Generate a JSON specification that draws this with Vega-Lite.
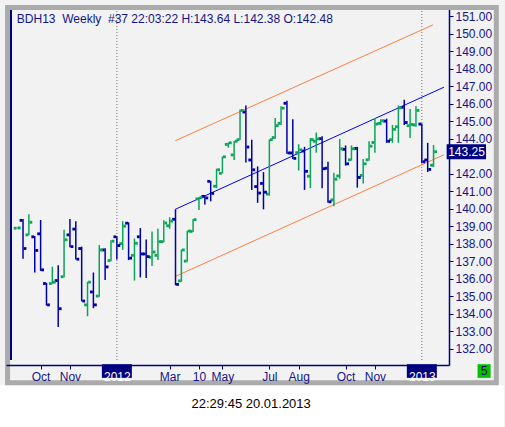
{
  "$schema": "https://vega.github.io/schema/vega-lite/v6.json",
  "autosize": {"type": "none"},
  "padding": {"left": 6, "top": 5, "right": 56, "bottom": 62},
  "width": 443,
  "height": 360,
  "background": "#f2f2f2",
  "datasets": {
    "weeks": [
      {"i": 1, "o": 138.88, "h": 138.92, "l": 138.86, "c": 138.9},
      {"i": 2, "o": 139.33, "h": 139.41, "l": 137.14, "c": 137.72},
      {"i": 3, "o": 138.5, "h": 139.68, "l": 138.48, "c": 139.22},
      {"i": 4, "o": 138.39, "h": 138.44, "l": 136.35, "c": 137.61},
      {"i": 5, "o": 138.56, "h": 139.35, "l": 136.44, "c": 136.5},
      {"i": 6, "o": 135.72, "h": 135.76, "l": 134.46, "c": 134.5},
      {"i": 7, "o": 135.72, "h": 136.68, "l": 135.7, "c": 135.8},
      {"i": 8, "o": 135.89, "h": 136.76, "l": 133.24, "c": 134.28},
      {"i": 9, "o": 136.11, "h": 138.79, "l": 136.07, "c": 138.22},
      {"i": 10, "o": 138.5, "h": 139.41, "l": 137.79, "c": 137.83},
      {"i": 11, "o": 138.83, "h": 139.28, "l": 137.09, "c": 137.11},
      {"i": 12, "o": 137.72, "h": 137.83, "l": 134.7, "c": 134.72},
      {"i": 13, "o": 134.5, "h": 135.82, "l": 133.85, "c": 135.8},
      {"i": 14, "o": 135.24, "h": 136.35, "l": 134.31, "c": 134.5},
      {"i": 15, "o": 135.0, "h": 137.92, "l": 134.96, "c": 137.64},
      {"i": 16, "o": 137.64, "h": 137.74, "l": 135.92, "c": 136.67},
      {"i": 17, "o": 137.03, "h": 138.2, "l": 137.0, "c": 138.14},
      {"i": 18, "o": 138.39, "h": 138.42, "l": 137.09, "c": 137.89},
      {"i": 19, "o": 138.0, "h": 139.28, "l": 137.64, "c": 139.0},
      {"i": 20, "o": 139.17, "h": 139.22, "l": 137.06, "c": 137.17},
      {"i": 21, "o": 137.33, "h": 138.29, "l": 135.89, "c": 138.02},
      {"i": 22, "o": 138.39, "h": 138.89, "l": 136.07, "c": 137.41},
      {"i": 23, "o": 137.41, "h": 138.24, "l": 136.03, "c": 137.26},
      {"i": 24, "o": 137.22, "h": 138.7, "l": 136.72, "c": 137.52},
      {"i": 25, "o": 137.33, "h": 138.85, "l": 137.07, "c": 138.11},
      {"i": 26, "o": 138.11, "h": 139.33, "l": 138.08, "c": 139.18},
      {"i": 27, "o": 139.02, "h": 139.5, "l": 138.85, "c": 139.29},
      {"i": 28, "o": 139.39, "h": 139.96, "l": 135.62, "c": 135.67},
      {"i": 29, "o": 135.87, "h": 137.66, "l": 135.82, "c": 137.64},
      {"i": 30, "o": 137.0, "h": 138.74, "l": 136.97, "c": 138.72},
      {"i": 31, "o": 138.7, "h": 139.41, "l": 138.67, "c": 139.37},
      {"i": 32, "o": 140.56, "h": 140.67, "l": 139.92, "c": 140.63},
      {"i": 33, "o": 140.7, "h": 140.78, "l": 140.24, "c": 140.61},
      {"i": 34, "o": 141.56, "h": 141.59, "l": 140.42, "c": 140.87},
      {"i": 35, "o": 141.28, "h": 142.28, "l": 141.17, "c": 142.22},
      {"i": 36, "o": 142.02, "h": 142.98, "l": 142.0, "c": 142.96},
      {"i": 37, "o": 143.67, "h": 143.78, "l": 143.48, "c": 143.76},
      {"i": 38, "o": 143.07, "h": 143.87, "l": 142.78, "c": 143.85},
      {"i": 39, "o": 143.94, "h": 145.67, "l": 143.92, "c": 145.61},
      {"i": 40, "o": 145.52, "h": 145.89, "l": 142.64, "c": 143.52},
      {"i": 41, "o": 142.78, "h": 143.94, "l": 141.07, "c": 142.22},
      {"i": 42, "o": 141.26, "h": 142.41, "l": 140.33, "c": 140.89},
      {"i": 43, "o": 141.44, "h": 142.09, "l": 139.96, "c": 140.94},
      {"i": 44, "o": 140.83, "h": 143.96, "l": 140.74, "c": 143.94},
      {"i": 45, "o": 144.06, "h": 145.18, "l": 144.0, "c": 144.74},
      {"i": 46, "o": 144.87, "h": 145.85, "l": 144.78, "c": 145.74},
      {"i": 47, "o": 146.02, "h": 146.17, "l": 143.14, "c": 143.18},
      {"i": 48, "o": 143.18, "h": 145.11, "l": 142.83, "c": 142.87},
      {"i": 49, "o": 143.2, "h": 143.68, "l": 142.18, "c": 143.36},
      {"i": 50, "o": 143.29, "h": 143.53, "l": 141.07, "c": 142.13},
      {"i": 51, "o": 141.85, "h": 144.03, "l": 141.17, "c": 143.94},
      {"i": 52, "o": 143.85, "h": 144.35, "l": 143.2, "c": 143.98},
      {"i": 53, "o": 144.0, "h": 144.13, "l": 141.17, "c": 142.28},
      {"i": 54, "o": 142.31, "h": 142.68, "l": 140.33, "c": 140.39},
      {"i": 55, "o": 140.5, "h": 142.05, "l": 140.14, "c": 141.68},
      {"i": 56, "o": 141.87, "h": 143.98, "l": 141.72, "c": 143.42},
      {"i": 57, "o": 143.39, "h": 143.61, "l": 142.46, "c": 142.56},
      {"i": 58, "o": 142.79, "h": 143.61, "l": 142.74, "c": 143.42},
      {"i": 59, "o": 143.44, "h": 143.53, "l": 141.2, "c": 141.78},
      {"i": 60, "o": 141.9, "h": 142.83, "l": 141.44, "c": 142.56},
      {"i": 61, "o": 142.79, "h": 143.85, "l": 142.74, "c": 143.57},
      {"i": 62, "o": 143.78, "h": 145.18, "l": 143.2, "c": 144.83},
      {"i": 63, "o": 144.87, "h": 145.11, "l": 144.78, "c": 145.02},
      {"i": 64, "o": 145.0, "h": 145.14, "l": 143.76, "c": 143.85},
      {"i": 65, "o": 143.94, "h": 144.78, "l": 143.76, "c": 144.53},
      {"i": 66, "o": 144.68, "h": 145.89, "l": 143.76, "c": 145.76},
      {"i": 67, "o": 145.79, "h": 146.22, "l": 144.78, "c": 144.92},
      {"i": 68, "o": 144.74, "h": 145.7, "l": 144.03, "c": 144.81},
      {"i": 69, "o": 144.78, "h": 145.85, "l": 144.68, "c": 145.61},
      {"i": 70, "o": 144.83, "h": 144.87, "l": 142.59, "c": 142.68},
      {"i": 71, "o": 142.78, "h": 143.76, "l": 142.09, "c": 142.24},
      {"i": 72, "o": 142.48, "h": 143.64, "l": 142.38, "c": 143.25}
    ],
    "channel": [
      {"line": "mid", "i": 27.95, "p": 139.96},
      {"line": "mid", "i": 73.78, "p": 146.94},
      {"line": "upper", "i": 27.95, "p": 143.88},
      {"line": "upper", "i": 71.9, "p": 150.5},
      {"line": "lower", "i": 27.95, "p": 136.12},
      {"line": "lower", "i": 73.78, "p": 143.08}
    ],
    "years": [
      {"i": 18, "label": "2012"},
      {"i": 70, "label": "2013"}
    ],
    "one": [{}]
  },
  "data": {"name": "weeks"},
  "layer": [
    {
      "data": {"name": "one"},
      "mark": {"type": "rect", "fill": "white"},
      "encoding": {
        "x": {"datum": -2},
        "x2": {"datum": 84},
        "y": {"datum": 129.906},
        "y2": {"datum": 127.4}
      }
    },
    {
      "data": {"name": "one"},
      "mark": {"type": "rect", "fill": "#f2f2f2", "fillOpacity": 0, "stroke": "#ababab", "strokeWidth": 5},
      "encoding": {
        "x": {"datum": -0.633},
        "x2": {"datum": 82.7},
        "y": {"datum": 151.489},
        "y2": {"datum": 130.044}
      }
    },
    {
      "data": {"name": "years"},
      "mark": {"type": "rule", "color": "#707070", "strokeWidth": 1, "strokeDash": [1, 2]},
      "encoding": {
        "x": {"field": "i", "type": "quantitative", "title": null},
        "y": {"datum": 131.35},
        "y2": {"datum": 151.35}
      }
    },
    {
      "data": {"name": "one"},
      "mark": {"type": "rule", "color": "#000080", "strokeWidth": 2},
      "encoding": {
        "x": {"datum": -0.05},
        "y": {"datum": 131.35},
        "y2": {"datum": 151.35}
      }
    },
    {
      "data": {"name": "channel"},
      "mark": {"type": "line", "strokeWidth": 1},
      "encoding": {
        "x": {"field": "i", "type": "quantitative", "title": null},
        "y": {"field": "p", "type": "quantitative", "title": null},
        "color": {
          "field": "line",
          "type": "nominal",
          "scale": {"domain": ["mid", "upper", "lower"], "range": ["#0000ff", "#ff7f40", "#ff7f40"]},
          "legend": null
        }
      }
    },
    {
      "mark": {"type": "rule", "strokeWidth": 1.5},
      "encoding": {
        "x": {
          "field": "i",
          "type": "quantitative",
          "title": null,
          "scale": {"domain": [-0.05, 73.78], "nice": false, "zero": false},
          "axis": {
            "values": [5, 10, 18, 27, 32, 36, 44, 49, 57, 62, 70],
            "labelExpr": "['Oct','Nov','2012','Mar','10','May','Jul','Aug','Oct','Nov','2013'][indexof([5,10,18,27,32,36,44,49,57,62,70], datum.value)]",
            "zindex": 1,
            "labelColor": {
              "condition": {"test": "datum.value == 18 || datum.value == 70", "value": "white"},
              "value": "#15158a"
            }
          }
        },
        "y": {
          "field": "l",
          "type": "quantitative",
          "title": null,
          "scale": {"domain": [131.35, 151.35], "nice": false, "zero": false},
          "axis": {
            "orient": "right",
            "values": [132, 133, 134, 135, 136, 137, 138, 139, 140, 141, 142, 143, 144, 145, 146, 147, 148, 149, 150, 151],
            "tickCount": 20,
            "labelExpr": "datum.value == 143 ? '' : format(datum.value, '.2f')",
            "zindex": 0
          }
        },
        "y2": {"field": "h"},
        "color": {
          "condition": {"test": "datum.c >= datum.o", "value": "#0aa55a"},
          "value": "#0000a8"
        }
      }
    },
    {
      "mark": {"type": "square", "size": 8, "opacity": 1, "xOffset": -2},
      "encoding": {
        "x": {"field": "i", "type": "quantitative", "title": null},
        "y": {"field": "o", "type": "quantitative", "title": null},
        "color": {
          "condition": {"test": "datum.c >= datum.o", "value": "#0aa55a"},
          "value": "#0000a8"
        }
      }
    },
    {
      "mark": {"type": "square", "size": 8, "opacity": 1, "xOffset": 2},
      "encoding": {
        "x": {"field": "i", "type": "quantitative", "title": null},
        "y": {"field": "c", "type": "quantitative", "title": null},
        "color": {
          "condition": {"test": "datum.c >= datum.o", "value": "#0aa55a"},
          "value": "#0000a8"
        }
      }
    },
    {
      "data": {"name": "one"},
      "mark": {
        "type": "text",
        "text": "BDH13\u00a0\u00a0Weekly\u00a0\u00a0#37 22:03:22 H:143.64 L:142.38 O:142.48",
        "align": "left",
        "baseline": "middle",
        "font": "Liberation Sans",
        "fontSize": 12,
        "color": "#15158a"
      },
      "encoding": {
        "x": {"datum": 0.95},
        "y": {"datum": 150.85}
      }
    },
    {
      "transform": [{"filter": "datum.i == 72"}],
      "mark": {"type": "bar", "height": 15, "color": "#000080"},
      "encoding": {
        "x": {"datum": 74.23},
        "x2": {"datum": 80.95},
        "y": {"field": "c", "type": "quantitative", "title": null}
      }
    },
    {
      "transform": [{"filter": "datum.i == 72"}],
      "mark": {"type": "text", "align": "center", "baseline": "middle", "font": "Liberation Sans", "fontSize": 12, "color": "white"},
      "encoding": {
        "x": {"datum": 77.62},
        "y": {"field": "c", "type": "quantitative", "title": null},
        "text": {"field": "c", "type": "quantitative", "format": ".2f"}
      }
    },
    {
      "data": {"name": "years"},
      "mark": {"type": "bar", "width": 30, "color": "#000080"},
      "encoding": {
        "x": {"field": "i", "type": "quantitative", "title": null},
        "y": {"datum": 131.11},
        "y2": {"datum": 130.33}
      }
    },
    {
      "data": {"name": "one"},
      "mark": {"type": "rect", "color": "#00c000"},
      "encoding": {
        "x": {"datum": 79.5},
        "x2": {"datum": 81.73},
        "y": {"datum": 131.11},
        "y2": {"datum": 130.33}
      }
    },
    {
      "data": {"name": "one"},
      "mark": {"type": "text", "text": "5", "align": "center", "baseline": "middle", "font": "Liberation Sans", "fontSize": 12, "color": "#000060"},
      "encoding": {
        "x": {"datum": 80.62},
        "y": {"datum": 130.72}
      }
    },
    {
      "data": {"name": "one"},
      "mark": {"type": "text", "text": "22:29:45 20.01.2013", "align": "center", "baseline": "middle", "font": "Liberation Sans", "fontSize": 13, "color": "black"},
      "encoding": {
        "x": {"datum": 40.9},
        "y": {"datum": 128.85}
      }
    }
  ],
  "config": {
    "view": {"stroke": null},
    "axis": {
      "grid": false,
      "domainColor": "#000080",
      "domainWidth": 1.5,
      "tickColor": "#000080",
      "tickSize": 4,
      "labelPadding": 2,
      "labelFont": "Liberation Sans",
      "labelFontSize": 12,
      "labelColor": "#15158a",
      "labelOverlap": false,
      "labelFlush": false,
      "labelBound": false,
      "labelSeparation": 0
    }
  }
}
